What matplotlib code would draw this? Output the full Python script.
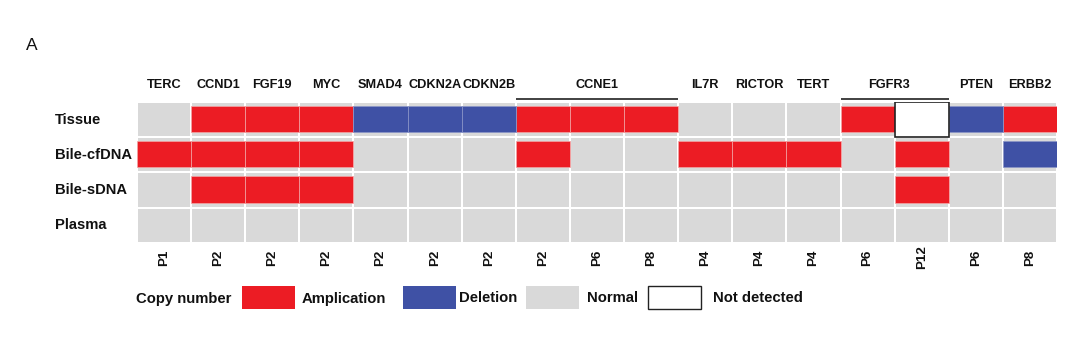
import matplotlib
matplotlib.use('Agg')
import matplotlib.pyplot as plt
from matplotlib.patches import Rectangle
import numpy as np

plt.rcParams['font.family'] = ['Liberation Sans', 'DejaVu Sans']

genes = ['TERC', 'CCND1', 'FGF19', 'MYC', 'SMAD4', 'CDKN2A', 'CDKN2B',
         'CCNE1', 'CCNE1', 'CCNE1', 'IL7R', 'RICTOR', 'TERT',
         'FGFR3', 'FGFR3', 'PTEN', 'ERBB2']
patients = ['P1', 'P2', 'P2', 'P2', 'P2', 'P2', 'P2', 'P2', 'P6', 'P8',
            'P4', 'P4', 'P4', 'P6', 'P12', 'P6', 'P8']
samples = ['Tissue', 'Bile-cfDNA', 'Bile-sDNA', 'Plasma']

# 1 = amplication, -1 = deletion, 0 = normal, 9 = not detected
tissue = [0, 1, 1, 1, -1, -1, -1, 1, 1, 1, 0, 0, 0, 1, 9, -1, 1]
bile_cf = [1, 1, 1, 1, 0, 0, 0, 1, 0, 0, 1, 1, 1, 0, 1, 0, -1]
bile_s = [0, 1, 1, 1, 0, 0, 0, 0, 0, 0, 0, 0, 0, 0, 1, 0, 0]
plasma = [0] * 17

status = np.array([tissue, bile_cf, bile_s, plasma])

RED = '#ec1c24'
BLUE = '#3f51a5'
GRAY = '#d9d9d9'

W, H = 1080, 355
fig = plt.figure(figsize=(W / 100, H / 100), dpi=100)

left, right, top, bottom = 137, 1057, 102, 242.7
ax = fig.add_axes([left / W, 1 - bottom / H, (right - left) / W, (bottom - top) / H])
ncol, nrow = status.shape[1], status.shape[0]
row_px = (bottom - top) / nrow

# gray background cells with white grid
ax.pcolormesh(np.arange(ncol + 1), np.arange(nrow + 1), np.zeros_like(status),
              cmap=matplotlib.colors.ListedColormap([GRAY]),
              edgecolors='white', linewidth=1.2)

for r in range(nrow):
    cols = np.arange(ncol)
    amp = cols[status[r] == 1]
    dele = cols[status[r] == -1]
    nd = cols[status[r] == 9]
    ax.barh(np.full(len(amp), r + 0.485), 1, left=amp, height=0.75,
            color=RED, edgecolor='#f2a6a6', linewidth=0.5)
    ax.barh(np.full(len(dele), r + 0.485), 1, left=dele, height=0.75,
            color=BLUE, edgecolor='#8c96c8', linewidth=0.5)
    ax.barh(np.full(len(nd), r + 0.5), 1, left=nd, height=1.0,
            color='white', edgecolor='#222222', linewidth=1.2)

ax.set_xlim(0, ncol)
ax.set_ylim(nrow, 0)
ax.axis('off')

# gene labels (groups spanning several columns get a line)
i = 0
while i < ncol:
    j = i
    while j + 1 < ncol and genes[j + 1] == genes[i]:
        j += 1
    cx = (i + j + 1) / 2
    if j > i:
        cx -= 0.1 if genes[i] == 'FGFR3' else 0
        ax.plot([i, j + 1], [-(top - 98.5) / row_px] * 2, color='#333333',
                linewidth=1.3, clip_on=False, solid_capstyle='butt')
    ax.text(cx, -(top - 85) / row_px, genes[i], ha='center', va='center',
            fontsize=9.2, fontweight='bold', color='#111111', clip_on=False)
    i = j + 1

# patient labels
for c, p in enumerate(patients):
    ax.text(c + 0.5, nrow + (257.5 - bottom) / row_px, p, rotation=90,
            ha='center', va='center', fontsize=9.6, fontweight='bold',
            color='#111111', clip_on=False)

# sample labels
for r, s in enumerate(samples):
    fig.text(55 / W, 1 - (top + (r + 0.5) * row_px) / H, s, ha='left',
             va='center', fontsize=10.6, fontweight='bold', color='#111111')

fig.text(26 / W, 1 - 45 / H, 'A', ha='left', va='center', fontsize=12.5,
         color='#111111')

# legend
base = 302.5
fig.text(136 / W, 1 - base / H, 'Copy number', ha='left', va='baseline',
         fontsize=10.7, fontweight='bold', color='#111111')
leg_items = [('Amplication', RED, 'none', 242, 302),
             ('Deletion', BLUE, 'none', 403, 459),
             ('Normal', GRAY, 'none', 526, 587),
             ('Not detected', 'white', '#222222', 648, 713)]
for lab, fc, ec, bx, tx in leg_items:
    fig.patches.append(Rectangle((bx / W, 1 - 309 / H), 53 / W, 23 / H,
                                 transform=fig.transFigure, facecolor=fc,
                                 edgecolor=ec, linewidth=1.0))
    fig.text(tx / W, 1 - base / H, lab, ha='left', va='baseline', fontsize=10.7,
             fontweight='bold', color='#111111')

fig.savefig('out.png', dpi=100, facecolor='white')
